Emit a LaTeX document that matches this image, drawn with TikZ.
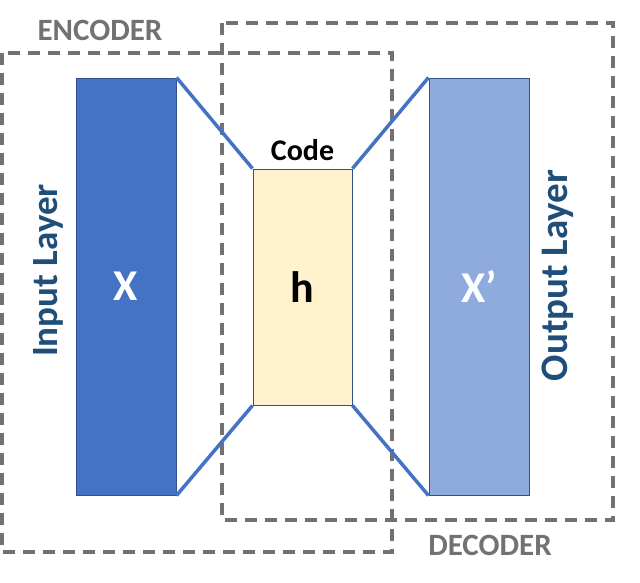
\documentclass[tikz,border=0pt]{standalone}
\usepackage{fontspec}
\setmainfont{Carlito}
\usetikzlibrary{positioning}

\definecolor{boxgray}{HTML}{767171}
\definecolor{inblue}{HTML}{4472C4}
\definecolor{outblue}{HTML}{8FAADC}
\definecolor{edgeblue}{HTML}{2F528F}
\definecolor{codefill}{HTML}{FFF2CC}
\definecolor{labelblue}{HTML}{1F4E79}

\tikzset{
  layer/.style={draw=edgeblue, line width=1pt, minimum width=100pt, inner sep=0pt},
  dashbox/.style={draw=boxgray, line width=3.5pt, dash pattern=on 12pt off 8pt},
  link/.style={draw=inblue, line width=3.5pt},
  side/.style={font=\bfseries\fontsize{37}{40}\selectfont, text=labelblue, rotate=90},
  part/.style={font=\bfseries\fontsize{31}{34}\selectfont, text=boxgray}
}

\begin{document}
\begin{tikzpicture}[x=1pt, y=-1pt]
  \useasboundingbox (0,0) rectangle (640,582);

  % encoder and decoder frames
  \draw[dashbox] (2,53) rectangle (392,552);
  \draw[dashbox] (222,23) rectangle (613,520);

  \node[layer, fill=inblue, minimum height=417pt] (inp) at (126,286.5) {};
  \node[layer, fill=codefill, minimum width=99pt, minimum height=236pt] (code) at (302.5,287) {};
  \node[layer, fill=outblue, minimum height=417pt] (outp) at (479,286.5) {};

  \draw[link] (inp.north east) -- (code.north west);
  \draw[link] (inp.south east) -- (code.south west);
  \draw[link] (code.north east) -- (outp.north west);
  \draw[link] (code.south east) -- (outp.south west);

  \node[font=\bfseries\fontsize{44}{48}\selectfont, text=white] (x) at (inp.center) {X};
  \node[font=\bfseries\fontsize{44}{48}\selectfont] (h) at (code.center) {h};
  \node[font=\bfseries\fontsize{44}{48}\selectfont, text=white] (xp) at (outp.center) {X’};
  \node[font=\bfseries\fontsize{30}{34}\selectfont, above=4pt of code] (codelbl) {Code};

  \node[side] (inlbl) at (48,270.5) {Input Layer};
  \node[side, font=\bfseries\fontsize{39}{42}\selectfont] (outlbl) at (558,275.5) {Output Layer};

  \node[part] (enc) at (100,30) {ENCODER};
  \node[part] (dec) at (490,545) {DECODER};
\end{tikzpicture}
\end{document}
